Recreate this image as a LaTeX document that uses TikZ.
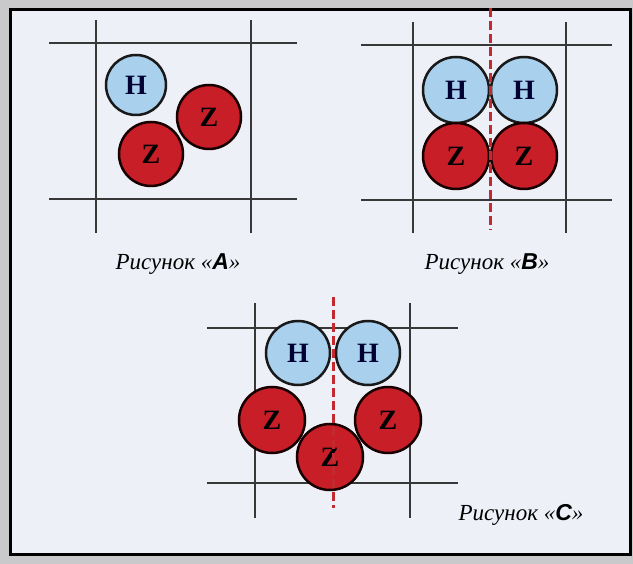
\documentclass[tikz,border=0pt]{standalone}
\usepackage{fontspec}
\setmainfont{Liberation Serif}
\newfontfamily\capsans{Liberation Sans}
\definecolor{bgout}{HTML}{C9C9CC}
\definecolor{bgin}{HTML}{EEF0F8}
\definecolor{hfill}{HTML}{A9D1EE}
\definecolor{zfill}{HTML}{C81E28}
\definecolor{gridc}{HTML}{383838}
\definecolor{dashc}{HTML}{C22A30}
\tikzset{
  gridline/.style={draw=gridc, line width=1.6pt},
  redaxis/.style={draw=dashc, line width=3pt, dash pattern=on 9pt off 4pt},
  hatom/.style={circle, fill=hfill, draw=black!90, line width=2.5pt, inner sep=0pt,
    minimum size=64pt, font=\bfseries\fontsize{28}{28}\selectfont, text=black!80!blue},
  zatom/.style={circle, fill=zfill, draw=black!90!red, line width=2.5pt, inner sep=0pt,
    minimum size=64pt, font=\bfseries\fontsize{28}{28}\selectfont, text=black},
  caption/.style={font=\itshape\fontsize{23}{26}\selectfont, inner sep=0pt}
}
\begin{document}
\begin{tikzpicture}[x=1pt, y=-1pt]
\useasboundingbox (0,0) rectangle (633,564);
\fill[bgout] (0,0) rectangle (633,564);
\draw[fill=bgin, line width=3pt, draw=black] (10,9.5) rectangle (630,555);

% ---- Figure A ----
\draw[gridline] (49,43) -- (297,43);
\draw[gridline] (49,199) -- (297,199);
\draw[gridline] (96,20) -- (96,233);
\draw[gridline] (251,20) -- (251,233);
\node[hatom, minimum size=60pt] (a-h) at (136,85) {H};
\node[zatom] (a-z1) at (209,117) {Z};
\node[zatom] (a-z2) at (151,154) {Z};
\node[caption] (capA) at (178,264) {Рисунок «{\capsans\bfseries\itshape A}»};

% ---- Figure B ----
\draw[gridline] (361,45) -- (612,45);
\draw[gridline] (361,200) -- (612,200);
\draw[gridline] (413,22) -- (413,233);
\draw[gridline] (566,22) -- (566,233);
\node[hatom, minimum size=66pt] (b-h1) at (456,90) {H};
\node[hatom, minimum size=66pt] (b-h2) at (524,90) {H};
\node[zatom, minimum size=66pt] (b-z1) at (456,156) {Z};
\node[zatom, minimum size=66pt] (b-z2) at (524,156) {Z};
\draw[redaxis] (490,8) -- (490,230);
\node[caption] (capB) at (487,264) {Рисунок «{\capsans\bfseries\itshape B}»};

% ---- Figure C ----
\draw[gridline] (207,328) -- (458,328);
\draw[gridline] (207,483) -- (458,483);
\draw[gridline] (255,303) -- (255,518);
\draw[gridline] (410,303) -- (410,518);
\node[hatom] (c-h1) at (298,353) {H};
\node[hatom] (c-h2) at (368,353) {H};
\node[zatom, minimum size=66pt] (c-z1) at (272,420) {Z};
\node[zatom, minimum size=66pt] (c-z2) at (388,420) {Z};
\node[zatom, minimum size=66pt] (c-z3) at (330,457) {Z};
\draw[redaxis] (333,297) -- (333,508);
\node[caption] (capC) at (521,515) {Рисунок «{\capsans\bfseries\itshape C}»};
\end{tikzpicture}
\end{document}
